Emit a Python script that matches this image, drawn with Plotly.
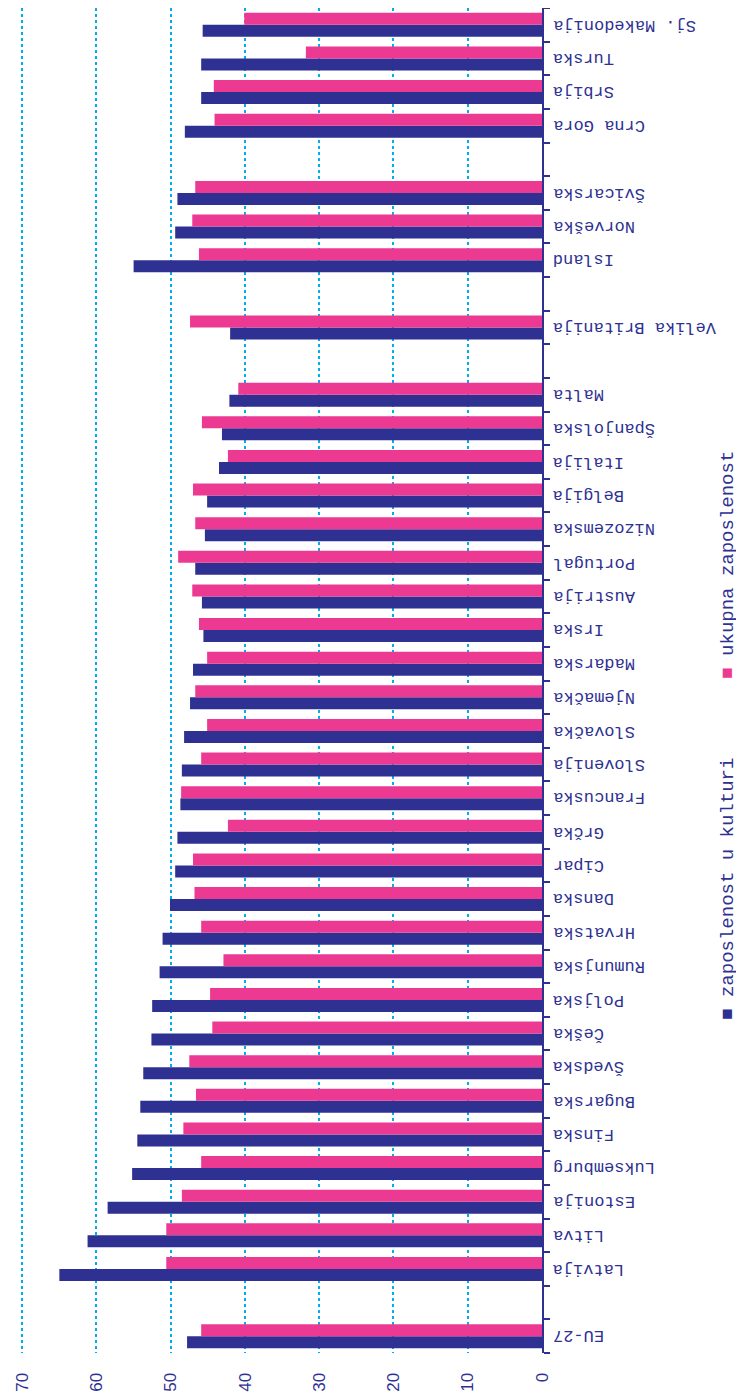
import plotly.graph_objects as go

categories = ["EU-27", " ", "Latvija", "Litva", "Estonija", "Luksemburg", "Finska", "Bugarska",
              "Švedska", "Češka", "Poljska", "Rumunjska", "Hrvatska", "Danska", "Cipar", "Grčka",
              "Francuska", "Slovenija", "Slovačka", "Njemačka", "Mađarska", "Irska", "Austrija",
              "Portugal", "Nizozemska", "Belgija", "Italija", "Španjolska", "Malta", "  ",
              "Velika Britanija", "   ", "Island", "Norveška", "Švicarska", "    ",
              "Crna Gora", "Srbija", "Turska", "Sj. Makedonija"]

kultura = [47.8, None, 65.0, 61.2, 58.5, 55.2, 54.5, 54.1,
           53.7, 52.6, 52.5, 51.5, 51.1, 50.1, 49.4, 49.1,
           48.7, 48.5, 48.2, 47.4, 47.0, 45.6, 45.8,
           46.7, 45.4, 45.1, 43.5, 43.1, 42.1, None,
           42.0, None, 55.0, 49.4, 49.1, None,
           48.1, 45.9, 45.9, 45.7]

ukupno = [45.9, None, 50.6, 50.6, 48.5, 45.9, 48.3, 46.6,
          47.5, 44.4, 44.7, 42.9, 45.9, 46.8, 47.0, 42.3,
          48.6, 45.9, 45.1, 46.7, 45.1, 46.2, 47.1,
          49.0, 46.7, 47.0, 42.3, 45.8, 40.9, None,
          47.4, None, 46.2, 47.1, 46.7, None,
          44.1, 44.2, 31.8, 40.1]

series_names = ["zaposlenost u kulturi", "ukupna zaposlenost"]
x_ticks = [0, 10, 20, 30, 40, 50, 60, 70]

NAVY = "#2e3192"
PINK = "#ec3a93"
GRID = "#00aeef"
MONO = "Liberation Mono, Courier New, monospace"

fig = go.Figure()
fig.add_trace(go.Bar(y=categories, x=kultura, orientation="h", name=series_names[0],
                     marker=dict(color=NAVY, line=dict(width=0))))
fig.add_trace(go.Bar(y=categories, x=ukupno, orientation="h", name=series_names[1],
                     marker=dict(color=PINK, line=dict(width=0))))

# the page body adds an 8px offset, so the figure is 8px smaller each way
fig.update_layout(
    width=736, height=1385,
    margin=dict(l=12, r=202, t=0, b=40),
    paper_bgcolor="white", plot_bgcolor="white",
    barmode="group", bargap=0.286, bargroupgap=0,
    showlegend=False,
    font=dict(family=MONO, color=NAVY, size=17),
)
fig.update_xaxes(
    range=[70.3, 0], tickvals=x_ticks, ticktext=[str(v) for v in x_ticks],
    tickangle=-90, showgrid=True, gridcolor=GRID, gridwidth=1.5, griddash="dot",
    zeroline=False, showline=False, ticks="outside", ticklen=12, tickcolor="rgba(0,0,0,0)",
    automargin=False,
    tickfont=dict(family="Liberation Sans, Arial, sans-serif", size=17, color=NAVY),
)
fig.update_yaxes(
    type="category", categoryorder="array", categoryarray=categories,
    side="right", showgrid=False, showline=True, linecolor=NAVY, linewidth=2,
    ticks="outside", tickson="boundaries", ticklen=6, tickwidth=2, tickcolor=NAVY,
    showticklabels=False, automargin=False,
    range=[-0.5, len(categories) - 0.5],
)

# category labels, upside down, next to the right-side axis
for c in categories:
    if c.strip():
        fig.add_annotation(xref="paper", yref="y", x=1.0, y=c, xshift=9,
                           xanchor="left", yanchor="middle", showarrow=False,
                           textangle=180, text=c,
                           font=dict(family=MONO, size=17, color=NAVY))

fig.add_annotation(xref="paper", yref="paper", x=1.381, y=0.345, showarrow=False,
                   textangle=-90,
                   text="<span style='color:%s'>■</span> %s" % (NAVY, series_names[0]),
                   font=dict(family=MONO, size=19, color=NAVY))
fig.add_annotation(xref="paper", yref="paper", x=1.381, y=0.586, showarrow=False,
                   textangle=-90,
                   text="<span style='color:%s'>■</span> %s" % (PINK, series_names[1]),
                   font=dict(family=MONO, size=19, color=NAVY))

fig.write_html("out.html")
